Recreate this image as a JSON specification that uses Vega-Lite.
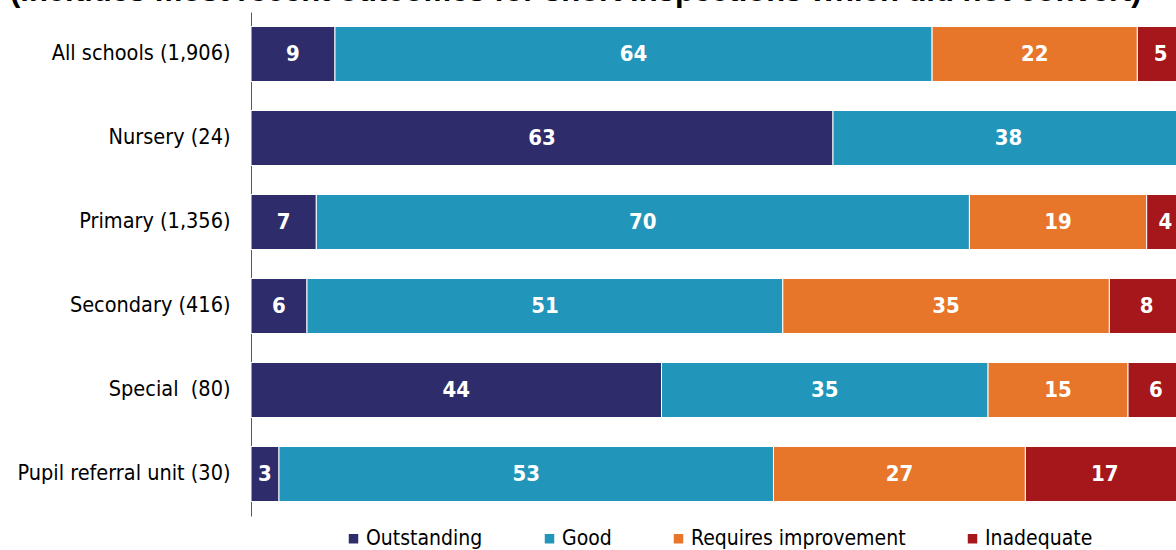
{
  "$schema": "https://vega.github.io/schema/vega-lite/v6.json",
  "width": 933,
  "height": 504,
  "padding": {"left": 0, "top": -24, "right": 0, "bottom": 0},
  "background": "white",
  "title": {
    "text": "(includes most recent outcomes for short inspections which did not convert)",
    "font": "Liberation Sans",
    "fontSize": 31,
    "fontWeight": "bold",
    "color": "#000000",
    "anchor": "start",
    "frame": "group",
    "dx": -241,
    "offset": 4
  },
  "data": {
    "values": [
      {"type": "All schools (1,906)", "grade": "Outstanding", "pct": 9},
      {"type": "All schools (1,906)", "grade": "Good", "pct": 64},
      {"type": "All schools (1,906)", "grade": "Requires improvement", "pct": 22},
      {"type": "All schools (1,906)", "grade": "Inadequate", "pct": 5},
      {"type": "Nursery (24)", "grade": "Outstanding", "pct": 63},
      {"type": "Nursery (24)", "grade": "Good", "pct": 38},
      {"type": "Primary (1,356)", "grade": "Outstanding", "pct": 7},
      {"type": "Primary (1,356)", "grade": "Good", "pct": 70},
      {"type": "Primary (1,356)", "grade": "Requires improvement", "pct": 19},
      {"type": "Primary (1,356)", "grade": "Inadequate", "pct": 4},
      {"type": "Secondary (416)", "grade": "Outstanding", "pct": 6},
      {"type": "Secondary (416)", "grade": "Good", "pct": 51},
      {"type": "Secondary (416)", "grade": "Requires improvement", "pct": 35},
      {"type": "Secondary (416)", "grade": "Inadequate", "pct": 8},
      {"type": "Special\u00a0 (80)", "grade": "Outstanding", "pct": 44},
      {"type": "Special\u00a0 (80)", "grade": "Good", "pct": 35},
      {"type": "Special\u00a0 (80)", "grade": "Requires improvement", "pct": 15},
      {"type": "Special\u00a0 (80)", "grade": "Inadequate", "pct": 6},
      {"type": "Pupil referral unit (30)", "grade": "Outstanding", "pct": 3},
      {"type": "Pupil referral unit (30)", "grade": "Good", "pct": 53},
      {"type": "Pupil referral unit (30)", "grade": "Requires improvement", "pct": 27},
      {"type": "Pupil referral unit (30)", "grade": "Inadequate", "pct": 17}
    ]
  },
  "encoding": {
    "y": {
      "field": "type",
      "type": "nominal",
      "sort": ["All schools (1,906)", "Nursery (24)", "Primary (1,356)", "Secondary (416)", "Special\u00a0 (80)", "Pupil referral unit (30)"],
      "scale": {"paddingInner": 0.345, "paddingOuter": 0.1725},
      "axis": {
        "title": null,
        "ticks": false,
        "labelPadding": 21,
        "labelFont": "DejaVu Sans Condensed",
        "labelFontSize": 21.5,
        "labelColor": "#000000",
        "labelLimit": 400,
        "domainColor": "#595959",
        "domainWidth": 1,
        "minExtent": 251,
        "maxExtent": 251
      }
    }
  },
  "layer": [
    {
      "mark": {"type": "bar", "stroke": "#ffffff", "strokeWidth": 1},
      "encoding": {
        "x": {"field": "pct", "type": "quantitative", "stack": "normalize", "axis": null, "scale": {"domain": [0, 1], "nice": false}},
        "color": {
          "field": "grade",
          "type": "nominal",
          "sort": ["Outstanding", "Good", "Requires improvement", "Inadequate"],
          "scale": {
            "domain": ["Outstanding", "Good", "Requires improvement", "Inadequate"],
            "range": ["#2E2C6B", "#2195BA", "#E8762A", "#A6171B"]
          },
          "legend": {
            "title": null,
            "orient": "bottom",
            "direction": "horizontal",
            "symbolType": "square",
            "symbolSize": 90,
            "symbolStrokeWidth": 0,
            "labelFont": "DejaVu Sans Condensed",
            "labelFontSize": 21,
            "labelColor": "#000000",
            "labelOffset": 2,
            "columnPadding": 56,
            "labelLimit": 400,
            "offset": 12
          }
        },
        "order": {"field": "ord", "type": "quantitative"}
      }
    },
    {
      "mark": {"type": "text", "color": "#ffffff", "font": "DejaVu Sans Condensed", "fontWeight": "bold", "fontSize": 22, "baseline": "middle", "align": "center"},
      "encoding": {
        "x": {"field": "pct", "type": "quantitative", "stack": "normalize", "bandPosition": 0.5},
        "detail": {"field": "grade", "type": "nominal", "sort": ["Outstanding", "Good", "Requires improvement", "Inadequate"]},
        "order": {"field": "ord", "type": "quantitative"},
        "text": {"field": "pct", "type": "quantitative"}
      }
    }
  ],
  "transform": [
    {"lookup": "grade", "from": {"data": {"values": [
      {"grade": "Outstanding", "ord": 1},
      {"grade": "Good", "ord": 2},
      {"grade": "Requires improvement", "ord": 3},
      {"grade": "Inadequate", "ord": 4}
    ]}, "key": "grade", "fields": ["ord"]}}
  ],
  "config": {
    "view": {"stroke": null},
    "legend": {"layout": {"bottom": {"anchor": "middle"}}}
  }
}
